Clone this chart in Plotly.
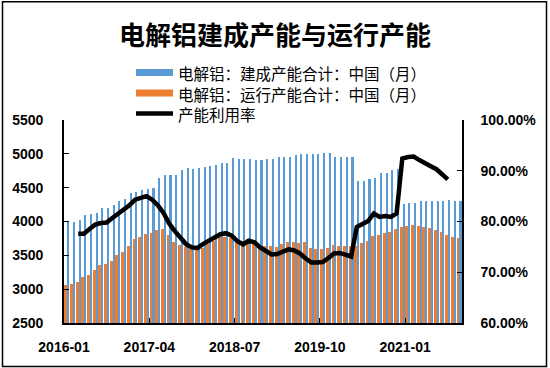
import plotly.graph_objects as go

# ---------------- data ----------------
months = [f"{y}-{m:02d}" for y in range(2016, 2022) for m in range(1, 13)][:70]

built_capacity = [4005, 3986, 4015, 4098, 4110, 4122, 4195, 4205, 4238, 4296,
                  4335, 4415, 4430, 4464, 4474, 4500, 4637, 4686, 4686, 4690,
                  4758, 4794, 4770, 4794, 4805, 4815, 4840, 4860, 4862, 4940,
                  4930, 4918, 4918, 4908, 4905, 4923, 4925, 4948, 4950, 4957,
                  4985, 4992, 4993, 4998, 5000, 5007, 5007, 4960, 4960, 4960,
                  4960, 4602, 4605, 4628, 4645, 4710, 4720, 4755, 4780, 4265,
                  4268, 4276, 4300, 4305, 4305, 4305, 4305, 4312, 4305, 4305]

running_capacity = [3058, 3073, 3107, 3175, 3216, 3290, 3350, 3369, 3420, 3502,
                    3551, 3642, 3737, 3773, 3808, 3828, 3872, 3882, 3800, 3690,
                    3655, 3625, 3590, 3590, 3615, 3665, 3715, 3765, 3775, 3762,
                    3745, 3712, 3745, 3715, 3660, 3640, 3635, 3620, 3668, 3690,
                    3692, 3677, 3690, 3608, 3598, 3598, 3608, 3650, 3640, 3645,
                    3640, 3638, 3675, 3715, 3780, 3800, 3825, 3848, 3885, 3920,
                    3935, 3945, 3940, 3922, 3898, 3870, 3840, 3805, 3770, 3750]

utilization_pct = [None, None, 77.6, 77.6, 78.5, 79.4, 79.7, 79.8, 80.7, 81.5,
                   82.2, 83.2, 84.3, 84.6, 85.0, 84.3, 83.2, 81.7, 79.6, 78.1,
                   76.7, 75.5, 74.9, 74.8, 75.6, 76.3, 76.9, 77.5, 77.7, 77.2,
                   76.1, 75.5, 76.2, 75.9, 74.9, 74.2, 73.5, 73.6, 74.0, 74.5,
                   74.3, 73.7, 72.7, 71.9, 71.9, 72.0, 72.8, 73.7, 73.8, 73.5,
                   73.1, 78.9, 79.6, 80.1, 81.6, 80.9, 81.1, 80.9, 81.6, 92.4,
                   92.7, 92.8, 92.1, 91.4, 90.9, 90.3, 89.4, 88.3, None, None]

tick_labels = ["2016-01", "2017-04", "2018-07", "2019-10", "2021-01"]

title_text = "电解铝建成产能与运行产能"
name_built = "电解铝：建成产能合计：中国（月）"
name_running = "电解铝：运行产能合计：中国（月）"
name_util = "产能利用率"

BLUE = "#5B9BD5"
ORANGE = "#ED7D31"

# ---------------- geometry ----------------
W, H = 550, 368
L, R, T, B = 64, 88, 120, 45
pw, ph = W - L - R, H - T - B


def xp(px):
    return (px - L) / pw


def yp(py):
    return (H - B - py) / ph


# ---------------- figure ----------------
x_idx = list(range(len(months)))
util = [v / 100 if v is not None else None for v in utilization_pct]

fig = go.Figure()

fig.add_trace(go.Bar(x=x_idx, y=running_capacity, width=0.55, offset=-0.45,
                     marker=dict(color=ORANGE, line=dict(width=0)),
                     name=name_running, showlegend=False, customdata=months))
fig.add_trace(go.Bar(x=x_idx, y=built_capacity, width=0.28, offset=0.14,
                     marker=dict(color=BLUE, line=dict(width=0)),
                     name=name_built, showlegend=False, customdata=months))
fig.add_trace(go.Scatter(x=x_idx, y=util, yaxis="y2", mode="lines",
                         line=dict(color="black", width=4.5),
                         name=name_util, showlegend=False, connectgaps=False))

NUM_FONT = "Liberation Sans, Arial, Noto Sans CJK SC"
CJK_FONT = "Noto Sans CJK SC, Liberation Sans"
tickfont = dict(family=NUM_FONT, size=14, color="black", weight="bold")

# manual legend (wide swatches, tight rows like the original)
legend_rows = [(name_built, BLUE, 72.5, "bar"),
               (name_running, ORANGE, 93, "bar"),
               (name_util, "black", 113.5, "line")]
shapes = []
annotations = []
for label, color, ry, kind in legend_rows:
    if kind == "bar":
        shapes.append(dict(type="rect", xref="paper", yref="paper",
                           x0=xp(136), x1=xp(173), y0=yp(ry + 3.5), y1=yp(ry - 3.5),
                           line=dict(width=0), fillcolor=color))
    else:
        shapes.append(dict(type="line", xref="paper", yref="paper",
                           x0=xp(136), x1=xp(173), y0=yp(ry), y1=yp(ry),
                           line=dict(color=color, width=4.5)))
    annotations.append(dict(text=label, xref="paper", yref="paper",
                            x=xp(176), y=yp(ry), xanchor="left", yanchor="middle",
                            showarrow=False, height=19, valign="middle",
                            font=dict(family=CJK_FONT, size=15.5, color="black")))

# outer frame
shapes.append(dict(type="rect", xref="paper", yref="paper",
                   x0=xp(2.5), x1=xp(546.5), y0=yp(366.5), y1=yp(1.8),
                   line=dict(color="black", width=1.5),
                   fillcolor="rgba(0,0,0,0)", layer="above"))

fig.update_layout(
    width=W, height=H,
    margin=dict(l=L, r=R, t=T, b=B, pad=0),
    paper_bgcolor="white", plot_bgcolor="white",
    barmode="overlay", bargap=0,
    showlegend=False,
    font=dict(family=CJK_FONT, color="black"),
    title=dict(text=title_text, x=0.5, xanchor="center", y=1 - 36 / H,
               yanchor="middle",
               font=dict(family=CJK_FONT, size=26, color="black", weight="bold")),
    xaxis=dict(range=[-0.5, len(months) - 0.5],
               tickvals=[months.index(t) - 0.5 for t in tick_labels],
               ticktext=tick_labels, ticks="inside", ticklen=5,
               tickcolor="black", showline=True, linecolor="black",
               linewidth=1.5, showgrid=False, zeroline=False,
               tickfont=tickfont, ticklabelstandoff=10),
    yaxis=dict(range=[2500, 5500], tick0=2500, dtick=500, ticks="inside",
               ticklen=5, tickcolor="black", showline=True,
               linecolor="black", linewidth=1.8, showgrid=False,
               zeroline=False, tickfont=tickfont, ticklabelstandoff=16),
    yaxis2=dict(range=[0.6, 1.0], tick0=0.6, dtick=0.1, tickformat=".2%",
                overlaying="y", side="right", ticks="inside", ticklen=5,
                tickcolor="black", showline=True, linecolor="black",
                linewidth=1.5, showgrid=False, zeroline=False,
                tickfont=tickfont, ticklabelstandoff=14),
    shapes=shapes,
    annotations=annotations,
)

fig.write_html("out.html",
               config={"displayModeBar": False},
               post_script="document.body.style.margin='0';"
                           "document.body.style.overflow='hidden';")
